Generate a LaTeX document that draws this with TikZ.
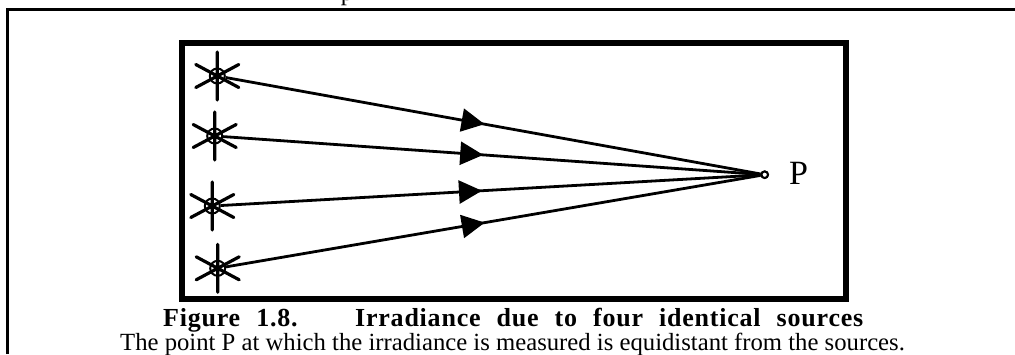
\documentclass[tikz,border=0pt]{standalone}
\usepackage{fontspec}
\setmainfont{Liberation Serif}
\newfontfamily\titlefont[LetterSpace=3,WordSpace=2.2]{Liberation Serif}
\usetikzlibrary{arrows.meta,decorations.markings}

\begin{document}
\begin{tikzpicture}[
  x=1pt, y=-1pt,
  frame/.style={draw, line width=3pt},
  box/.style={draw, line width=6pt},
  source/.style={circle, draw, line width=2pt, minimum size=15pt, inner sep=0pt},
  arm/.style={line width=3.2pt, line cap=round},
  target/.style={circle, draw, fill=white, line width=2pt, minimum size=6.5pt, inner sep=0pt},
  ray/.style={line width=2.8pt, postaction={decorate}, decoration={markings,
    mark=at position 0.484 with {\arrow{Triangle[length=23pt,width=23pt]}}}},
  title/.style={anchor=base west, inner sep=0pt, font=\fontsize{26}{30}\selectfont\titlefont\bfseries},
  note/.style={anchor=base west, inner sep=0pt, font=\fontsize{24.7}{29}\selectfont}
]
\useasboundingbox (0,0) rectangle (1015,354);

\coordinate (cornerb) at (7,354);
\coordinate (cornert) at (7,9.5);
\coordinate (cornerr) at (1015,9.5);
\draw[frame] (cornerb) -- (cornert) -- (cornerr);
\node[anchor=base, inner sep=0pt, font=\fontsize{24.7}{29}\selectfont] (cut) at (347,0) {p};

\draw[box] (182,43) rectangle (846,299);

\node[target] (P) at (764.7,174.7) {};
\node[anchor=base west, inner sep=0pt, font=\fontsize{34}{38}\selectfont] (Plabel) at (789,184) {P};

\foreach \name/\x/\y in {s1/217.3/76, s2/214.7/136, s3/212.3/206, s4/217.7/268.3} {
  \node[source] (\name) at (\x,\y) {};
  \draw[arm, shift={(\name.center)}] (0,-24) -- (0,24) (-21.5,-11.5) -- (21.5,11.5) (-21.5,11.5) -- (21.5,-11.5);
  \draw[ray] (\name) -- (P);
}
\node[target] at (P) {};

\node[title] (fig) at (163,326) {Figure 1.8.};
\node[title] (cap) at (355,326) {Irradiance due to four identical sources};
\node[note] (sub) at (120,350) {The point P at which the irradiance is measured is equidistant from the sources.};

\end{tikzpicture}
\end{document}
